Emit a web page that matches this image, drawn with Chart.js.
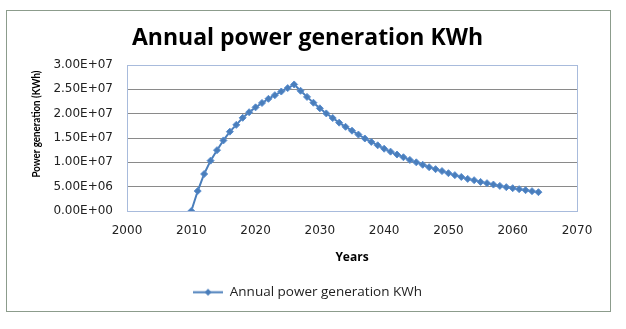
<!DOCTYPE html>
<html>
<head>
<meta charset="utf-8">
<script src="https://cdn.jsdelivr.net/npm/chart.js@4.4.0/dist/chart.umd.min.js"></script>
<style>
  body { margin: 0; background: #fff; }
  #wrap { width: 626px; height: 329px; }
</style>
</head>
<body>
<div id="wrap"><canvas id="powerChart" width="626" height="329"></canvas></div>
<script>
// 年と発電量 (KWh)
const years = [2010, 2011, 2012, 2013, 2014, 2015, 2016, 2017, 2018, 2019,
  2020, 2021, 2022, 2023, 2024, 2025, 2026, 2027, 2028, 2029,
  2030, 2031, 2032, 2033, 2034, 2035, 2036, 2037, 2038, 2039,
  2040, 2041, 2042, 2043, 2044, 2045, 2046, 2047, 2048, 2049,
  2050, 2051, 2052, 2053, 2054, 2055, 2056, 2057, 2058, 2059,
  2060, 2061, 2062, 2063, 2064];
const generation = [0, 4.1e6, 7.6e6, 1.035e7, 1.25e7, 1.45e7, 1.63e7, 1.77e7, 1.915e7, 2.03e7,
  2.13e7, 2.22e7, 2.305e7, 2.38e7, 2.455e7, 2.525e7, 2.6e7, 2.47e7, 2.345e7, 2.225e7,
  2.11e7, 2.005e7, 1.91e7, 1.815e7, 1.73e7, 1.65e7, 1.57e7, 1.49e7, 1.42e7, 1.35e7,
  1.28e7, 1.22e7, 1.16e7, 1.105e7, 1.05e7, 1.0e7, 9.5e6, 9.0e6, 8.6e6, 8.2e6,
  7.77e6, 7.37e6, 7.0e6, 6.6e6, 6.33e6, 5.98e6, 5.72e6, 5.43e6, 5.16e6, 4.9e6,
  4.69e6, 4.49e6, 4.28e6, 4.08e6, 3.87e6];
const yTicks = [0, 5e6, 1e7, 1.5e7, 2e7, 2.5e7, 3e7];
const xTicks = [2000, 2010, 2020, 2030, 2040, 2050, 2060, 2070];

const seriesName = 'Annual power generation KWh';
const lineColor = '#4a7ebb';
const plotBorder = '#a8bbdc';

function sci(v) {
  const [m, e] = v.toExponential(2).split('e');
  const n = parseInt(e, 10);
  return m + 'E' + (n < 0 ? '-' : '+') + String(Math.abs(n)).padStart(2, '0');
}

// 凡例用アイコン（線＋ひし形）
const legendIcon = document.createElement('canvas');
legendIcon.width = 30;
legendIcon.height = 9;
(() => {
  const c = legendIcon.getContext('2d');
  c.strokeStyle = lineColor;
  c.lineWidth = 2;
  c.beginPath(); c.moveTo(0, 4.5); c.lineTo(30, 4.5); c.stroke();
  c.fillStyle = lineColor;
  c.beginPath();
  c.moveTo(15, 1); c.lineTo(18.5, 4.5); c.lineTo(15, 8); c.lineTo(11.5, 4.5);
  c.closePath(); c.fill();
})();

const framePlugin = {
  id: 'frame',
  beforeDraw(chart) {
    const ctx = chart.ctx;
    ctx.save();
    ctx.fillStyle = '#fff';
    ctx.fillRect(0, 0, chart.width, chart.height);
    ctx.strokeStyle = '#8c9c8c';
    ctx.lineWidth = 1;
    ctx.strokeRect(6.5, 10.5, 604, 301);
    ctx.restore();
  },
  beforeDatasetsDraw(chart) {
    const a = chart.chartArea;
    const ctx = chart.ctx;
    ctx.save();
    ctx.strokeStyle = plotBorder;
    ctx.lineWidth = 1;
    ctx.strokeRect(Math.round(a.left) + 0.5, Math.round(a.top) + 0.5,
      Math.round(a.right - a.left), Math.round(a.bottom - a.top));
    ctx.restore();
  },
  afterDraw(chart) {
    // 縦軸タイトル（少し詰める）
    const ctx = chart.ctx;
    const text = 'Power generation (KWh)';
    ctx.save();
    ctx.font = 'bold 12px Lato';
    const w = ctx.measureText(text).width;
    ctx.translate(36.5, 124);
    ctx.rotate(-Math.PI / 2);
    ctx.scale(107 / w, 1);
    ctx.fillStyle = '#000';
    ctx.textAlign = 'center';
    ctx.textBaseline = 'middle';
    ctx.fillText(text, 0, 0);
    ctx.restore();
  }
};

new Chart(document.getElementById('powerChart'), {
  type: 'line',
  data: {
    datasets: [{
      label: seriesName,
      data: years.map((y, i) => ({ x: y, y: generation[i] })),
      borderColor: lineColor,
      backgroundColor: lineColor,
      borderWidth: 2,
      pointStyle: 'rectRot',
      pointRadius: 3.5,
      pointBorderWidth: 1,
      pointBackgroundColor: lineColor,
      pointBorderColor: '#5b8fd0',
      tension: 0
    }]
  },
  options: {
    responsive: false,
    animation: false,
    layout: { padding: { left: 38, right: 49, top: 0, bottom: 20 } },
    plugins: {
      title: {
        display: true,
        text: 'Annual power generation KWh',
        color: '#000',
        font: { family: 'Open Sans', size: 23, weight: 'bold' },
        padding: { top: 24.5, bottom: 12.9 }
      },
      legend: {
        position: 'bottom',
        labels: {
          usePointStyle: true,
          pointStyle: legendIcon,
          pointStyleWidth: 30,
          color: '#222',
          font: { family: 'Open Sans', size: 13.5 },
          padding: 10
        }
      },
      tooltip: { enabled: false }
    },
    scales: {
      x: {
        type: 'linear',
        min: 2000,
        max: 2070,
        afterBuildTicks: s => { s.ticks = xTicks.map(v => ({ value: v })); },
        afterFit: s => { s.height = 64.5; },
        grid: { display: false, drawTicks: false },
        border: { display: false },
        ticks: {
          padding: 13,
          color: '#222',
          font: { family: 'DejaVu Sans', size: 12 },
          maxRotation: 0,
          callback: v => String(v)
        },
        title: {
          display: true,
          text: 'Years',
          color: '#000',
          font: { family: 'Open Sans', size: 12, weight: 'bold' },
          padding: { top: 0, bottom: 11 }
        }
      },
      y: {
        min: 0,
        max: 3e7,
        afterBuildTicks: s => { s.ticks = yTicks.map(v => ({ value: v })); },
        afterFit: s => { s.width = 89; },
        grid: { color: '#8a8a8a', drawTicks: false },
        border: { display: false },
        ticks: {
          padding: 14,
          color: '#222',
          font: { family: 'DejaVu Sans', size: 12 },
          callback: v => sci(v)
        }
      }
    }
  },
  plugins: [framePlugin]
});
</script>
</body>
</html>
